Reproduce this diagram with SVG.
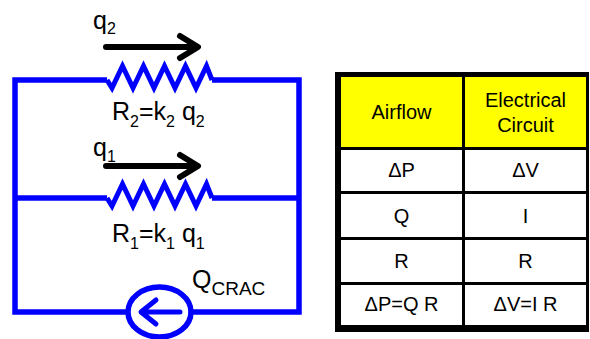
<svg xmlns="http://www.w3.org/2000/svg" width="590" height="339" viewBox="0 0 590 339">
<style>
.wire{fill:none;stroke:#0000FF;stroke-width:5.5;stroke-linejoin:miter}
.res{fill:none;stroke:#0000FF;stroke-width:5;stroke-linejoin:miter}
.flow{fill:none;stroke:#000;stroke-width:6;stroke-linecap:round;stroke-linejoin:round}
.lbl{font-family:"Liberation Sans",Arial,sans-serif;font-size:25px;fill:#000}
.sub{font-size:16px}
.cell{font-family:"Liberation Sans",Arial,sans-serif;font-size:20px;fill:#000;text-anchor:middle}
</style>
<g id="connectors">
<path class="wire" d="M107,80 H15 V312 H128"/>
<path class="wire" d="M212,80 H299 V312 H191"/>
<path class="wire" d="M15,198 H107"/>
<path class="wire" d="M212,198 H299"/>
</g>
<g id="R2">
<path class="res" d="M107,80 L112,88 L122.5,66 L133,88 L143.5,66 L154,88 L164.5,66 L175,88 L185.5,66 L196,88 L206.5,66 L212,80"/>
<path class="flow" d="M106,47 H197 M180,36 L198,47 L180,58"/>
<text class="lbl" x="93" y="29">q<tspan class="sub" dy="5">2</tspan></text>
<text class="lbl" x="112" y="120">R<tspan class="sub" dy="7">2</tspan><tspan dy="-7">=k</tspan><tspan class="sub" dy="7">2</tspan><tspan dy="-7"> q</tspan><tspan class="sub" dy="7">2</tspan></text>
</g>
<g id="R1">
<path class="res" d="M107,198 L112,206 L122.5,184 L133,206 L143.5,184 L154,206 L164.5,184 L175,206 L185.5,184 L196,206 L206.5,184 L212,198"/>
<path class="flow" d="M106,166 H197 M180,155 L198,166 L180,177"/>
<text class="lbl" x="93" y="156">q<tspan class="sub" dy="6">1</tspan></text>
<text class="lbl" x="112" y="242">R<tspan class="sub" dy="7">1</tspan><tspan dy="-7">=k</tspan><tspan class="sub" dy="7">1</tspan><tspan dy="-7"> q</tspan><tspan class="sub" dy="7">1</tspan></text>
</g>
<g id="QCRAC">
<ellipse cx="159.5" cy="312" rx="31.5" ry="25" fill="#fff" stroke="#0000FF" stroke-width="5.5"/>
<path d="M180,312 H142 M156,300 L141,312 L156,324" fill="none" stroke="#0000FF" stroke-width="5" stroke-linecap="round" stroke-linejoin="round"/>
<text class="lbl" x="192" y="288">Q<tspan font-size="19" dy="7">CRAC</tspan></text>
</g>
<g id="table">
<rect x="335" y="72" width="254" height="260" fill="#000"/>
<rect x="341" y="77" width="121" height="70" fill="#FFFF00"/>
<rect x="465" y="77" width="121" height="70" fill="#FFFF00"/>
<rect x="341" y="150" width="121" height="41" fill="#fff"/>
<rect x="465" y="150" width="121" height="41" fill="#fff"/>
<rect x="341" y="194" width="121" height="43" fill="#fff"/>
<rect x="465" y="194" width="121" height="43" fill="#fff"/>
<rect x="341" y="240" width="121" height="42" fill="#fff"/>
<rect x="465" y="240" width="121" height="42" fill="#fff"/>
<rect x="341" y="285" width="121" height="40" fill="#fff"/>
<rect x="465" y="285" width="121" height="40" fill="#fff"/>
<text class="cell" x="401.5" y="119">Airflow</text>
<text class="cell" x="525.5" y="107">Electrical</text>
<text class="cell" x="525.5" y="132">Circuit</text>
<text class="cell" x="401.5" y="177">ΔP</text>
<text class="cell" x="525.5" y="177">ΔV</text>
<text class="cell" x="401.5" y="223">Q</text>
<text class="cell" x="525.5" y="223">I</text>
<text class="cell" x="401.5" y="268">R</text>
<text class="cell" x="525.5" y="268">R</text>
<text class="cell" x="401.5" y="311">ΔP=Q R</text>
<text class="cell" x="525.5" y="311">ΔV=I R</text>
</g>
</svg>
